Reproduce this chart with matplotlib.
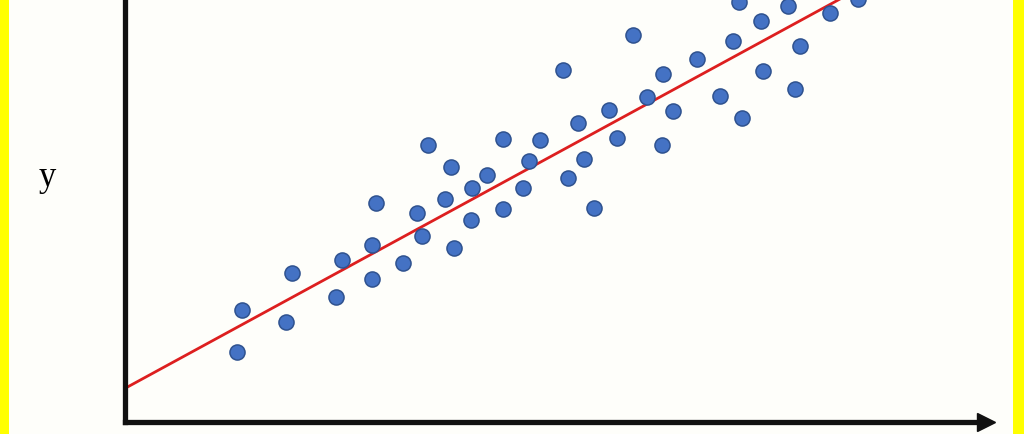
import matplotlib
matplotlib.use("Agg")
import matplotlib.pyplot as plt
from matplotlib.patches import Rectangle

# scatter points (arbitrary units)
x = [115, 120, 164, 170, 214, 220, 250, 250, 254, 281, 295, 300, 306, 323, 329, 332,
     349, 350, 365, 381, 381, 401, 407, 418, 441, 446, 456, 462, 472, 487, 495, 511,
     525, 540, 541, 551, 575, 598, 611, 617, 620, 639, 641, 666, 673, 678, 708, 736]
y = [70, 112, 100, 149, 125, 162, 143, 177, 219, 159, 209, 186, 277, 223, 255, 174,
     202, 234, 247, 283, 213, 234, 261, 282, 352, 244, 299, 263, 214, 312, 284, 387,
     325, 277, 348, 311, 363, 326, 381, 420, 304, 401, 351, 416, 333, 376, 409, 423]

# fitted line endpoints
line_x = [0, 718]
line_y = [32, 423]

W, H = 1024, 435
fig = plt.figure(figsize=(W / 100, H / 100), dpi=100)
fig.patch.set_facecolor("#fefefa")

# yellow frame strips on the sides
fig.add_artist(Rectangle((0, 0), 9 / W, 1, transform=fig.transFigure,
                         facecolor="#ffff00", edgecolor="none"))
fig.add_artist(Rectangle((1013 / W, 0), 11 / W, 1, transform=fig.transFigure,
                         facecolor="#ffff00", edgecolor="none"))

ax = fig.add_axes([124.5 / W, 12.5 / H, 861 / W, 422.5 / H])
ax.set_facecolor("none")
ax.set_xlim(2.5, 863.5)
ax.set_ylim(0.5, 423)

ax.plot(line_x, line_y, color="#dd1f1f", lw=2.0, zorder=2)
ax.scatter(x, y, s=118, color="#4472c4", edgecolors="#2f528f", linewidths=1.1, zorder=3)

for side in ["top", "right"]:
    ax.spines[side].set_visible(False)
for side in ["left", "bottom"]:
    ax.spines[side].set_linewidth(3.8)
    ax.spines[side].set_color("#111111")
    ax.spines[side].set_capstyle("projecting")
ax.set_xticks([])
ax.set_yticks([])

# arrow head at the end of the x axis
ax.plot(1, 0, ">", color="#111111", markersize=13, transform=ax.transAxes, clip_on=False)

fig.text(47 / W, 1 - 178 / H, "y", family="Liberation Serif", fontsize=25,
         ha="center", va="center")

fig.savefig("out.png", dpi=100, facecolor=fig.get_facecolor())
